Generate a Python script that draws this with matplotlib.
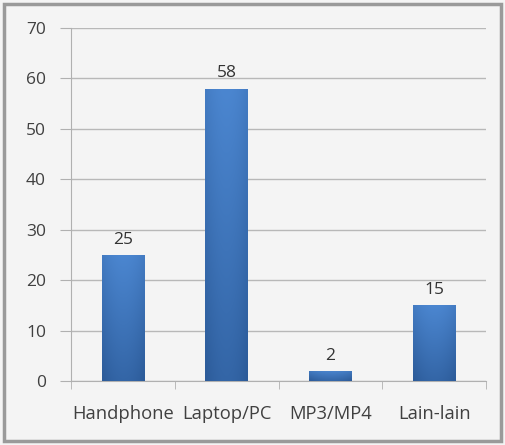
import numpy as np
import matplotlib.pyplot as plt
from matplotlib.patches import Rectangle
from matplotlib.colors import LinearSegmentedColormap

categories = ["Handphone", "Laptop/PC", "MP3/MP4", "Lain-lain"]
values = [25, 58, 2, 15]
yticks = [0, 10, 20, 30, 40, 50, 60, 70]

plt.rcParams['font.family'] = ['Open Sans', 'DejaVu Sans']

fig = plt.figure(figsize=(5.05, 4.45), dpi=100)
fig.patch.set_facecolor('#f4f4f4')
fig.patches.append(Rectangle((0.008, 0.008), 0.984, 0.984, transform=fig.transFigure,
                             fill=False, edgecolor='#9a9a9a', linewidth=2.5))

ax = fig.add_axes([0.1406, 0.1438, 0.8218, 0.7932])
ax.set_facecolor('#f4f4f4')

x = np.arange(len(categories))
width = 0.41
bars = ax.bar(x, values, width=width, color='#3f78c2', zorder=3)

# gradient: lighter at the top, darker at the bottom, a little darker at the sides
cmap = LinearSegmentedColormap.from_list('b', ['#2c5b99', '#4b86d0'])
for b in bars:
    x0, w, h = b.get_x(), b.get_width(), b.get_height()
    yy = np.linspace(1, 0, 60)[:, None]
    xx = np.linspace(-1, 1, 20)[None, :]
    grad = 0.75 * yy + 0.25 * (1 - xx ** 2)
    im = ax.imshow(grad, cmap=cmap, aspect='auto', extent=[x0, x0 + w, 0, h],
                   interpolation='bicubic', zorder=4, vmin=0, vmax=1)
    im.set_clip_path(b)

for xi, v in zip(x, values):
    ax.text(xi, v + 1.4, str(v), ha='center', va='bottom', fontsize=12.5, color='#333333')

ax.set_xlim(-0.5, len(categories) - 0.5)
ax.set_ylim(0, 70)
ax.set_yticks(yticks)
ax.set_yticklabels([str(t) for t in yticks], fontsize=12.5, color='#404040')
ax.set_xticks(x)
ax.set_xticklabels(categories, fontsize=13.2, color='#404040')
ax.tick_params(axis='x', length=0, pad=17)
ax.tick_params(axis='y', length=8, color='#b0b0b0', pad=10)
ax.set_xticks(np.arange(-0.5, len(categories)), minor=True)
ax.tick_params(axis='x', which='minor', length=6, color='#b0b0b0', direction='out')

ax.grid(axis='y', color='#b8b8b8', linewidth=1.0, zorder=0)
for s in ['top', 'right']:
    ax.spines[s].set_visible(False)
ax.spines['left'].set_color('#b0b0b0')
ax.spines['bottom'].set_color('#b0b0b0')

fig.savefig('out.png', dpi=100, facecolor=fig.get_facecolor())
